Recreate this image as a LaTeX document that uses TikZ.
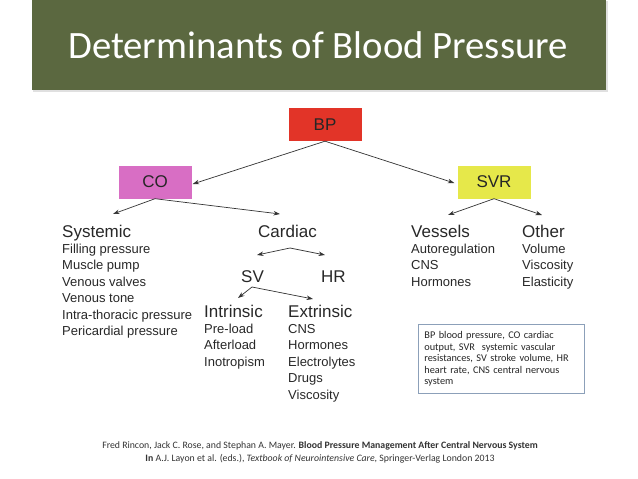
\documentclass[tikz,border=0pt]{standalone}
\usepackage{fontspec}
\setmainfont{Liberation Sans}
\newfontfamily\calib{Carlito}
\usetikzlibrary{arrows.meta}
\definecolor{barcol}{RGB}{91,104,64}
\definecolor{bpcol}{RGB}{226,52,40}
\definecolor{cocol}{RGB}{216,110,196}
\definecolor{svrcol}{RGB}{230,232,74}
\definecolor{txtcol}{RGB}{40,40,40}
\definecolor{legcol}{RGB}{140,160,185}
\begin{document}
\begin{tikzpicture}[x=1pt,y=-1pt,
  box/.style={inner sep=0pt, minimum width=73pt, minimum height=33pt, text=black!85,
    font=\fontsize{17}{19}\selectfont},
  head/.style={anchor=base west, inner sep=0pt, text=txtcol, font=\fontsize{17}{19}\selectfont},
  item/.style={anchor=base west, inner sep=0pt, text=txtcol, font=\fontsize{13}{15}\selectfont},
  arr/.style={-{Stealth[length=6.5pt,width=4.5pt]}, line width=0.7pt, draw=black!80},
  foot/.style={anchor=base, inner sep=0pt, text=black!80, font=\calib\fontsize{9.8}{11}\selectfont}]
\useasboundingbox (0,0) rectangle (638,479);
\fill[white] (0,0) rectangle (638,479);
% title bar
\fill[black!12] (33,1) rectangle (607.5,92);
\fill[barcol] (32,0) rectangle (606,90);
\node[anchor=base, inner sep=0pt, text=white, font=\calib\fontsize{38.7}{40}\selectfont] (title) at (318,58) {Determinants of Blood Pressure};
% boxes
\node[box, fill=bpcol] (bp) at (325,124.5) {BP};
\node[box, fill=cocol] (co) at (155,182) {CO};
\node[box, fill=svrcol] (svr) at (494,182) {SVR};
% headings
\node[head] (sys) at (62,237) {Systemic};
\node[head] (card) at (258,237) {Cardiac};
\node[head] (sv) at (241,282) {SV};
\node[head] (hr) at (321,282) {HR};
\node[head] (intr) at (204,317) {Intrinsic};
\node[head] (extr) at (288,317) {Extrinsic};
\node[head] (ves) at (411,237) {Vessels};
\node[head] (oth) at (522,237) {Other};
% items
\foreach \t [count=\i from 0] in {Filling pressure, Muscle pump, Venous valves, Venous tone, Intra-thoracic pressure, Pericardial pressure}
  \node[item] (sysi\i) at (62,253.5+16.4*\i) {\t};
\foreach \t [count=\i from 0] in {Pre-load, Afterload, Inotropism}
  \node[item] (intri\i) at (204,333.5+16.4*\i) {\t};
\foreach \t [count=\i from 0] in {CNS, Hormones, Electrolytes, Drugs, Viscosity}
  \node[item] (extri\i) at (288,333.5+16.4*\i) {\t};
\foreach \t [count=\i from 0] in {Autoregulation, CNS, Hormones}
  \node[item] (vesi\i) at (411,253.5+16.4*\i) {\t};
\foreach \t [count=\i from 0] in {Volume, Viscosity, Elasticity}
  \node[item] (othi\i) at (522,253.5+16.4*\i) {\t};
% arrow anchor points
\coordinate (sysT) at (113,214);
\coordinate (cardT) at (280,214);
\coordinate (cardB) at (290,248);
\coordinate (svT) at (257,255);
\coordinate (hrT) at (325,255);
\coordinate (svB) at (252,287);
\coordinate (intrT) at (238,298);
\coordinate (extrT) at (313,299);
\coordinate (vesT) at (448,215);
\coordinate (othT) at (542,215);
% connectors
\draw[arr] (bp.south) -- ([xshift=1pt,yshift=-2pt]co.east);
\draw[arr] (bp.south) -- ([xshift=-3pt,yshift=-1pt]svr.west);
\draw[arr] (co.south) -- (sysT);
\draw[arr] (co.south) -- (cardT);
\draw[arr] (cardB) -- (svT);
\draw[arr] (cardB) -- (hrT);
\draw[arr] (svB) -- (intrT);
\draw[arr] (svB) -- (extrT);
\draw[arr] (svr.south) -- (vesT);
\draw[arr] (svr.south) -- (othT);
% legend
\node[draw=legcol, line width=0.8pt, anchor=north west, minimum width=166pt, minimum height=69pt,
  inner xsep=6pt, inner ysep=0pt, text width=154pt, align=left, text=black!85,
  font=\calib\fontsize{10.3}{11.6}\selectfont] (leg) at (418,324)
  {BP blood pressure, CO cardiac\\ output, SVR\ \ systemic vascular\\ resistances, SV stroke volume, HR\\ heart rate, CNS central nervous\\ system};
% footer
\node[foot] (ref1) at (320,448) {Fred Rincon, Jack C. Rose, and Stephan A. Mayer. \textbf{Blood Pressure Management After Central Nervous System}};
\node[foot] (ref2) at (320,461) {\textbf{In} A.J. Layon et al. (eds.), \textit{Textbook of Neurointensive Care}, Springer-Verlag London 2013};
\end{tikzpicture}
\end{document}
